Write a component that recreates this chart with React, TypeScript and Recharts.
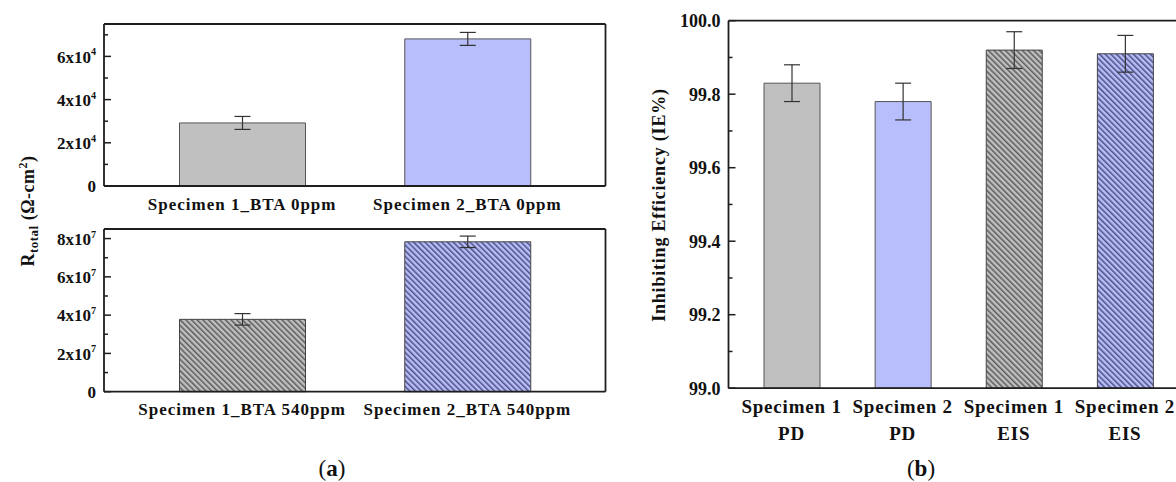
import { BarChart, Bar, XAxis, YAxis, ErrorBar, Cell, ReferenceLine } from "recharts";

const FONT = '"Liberation Serif", "Times New Roman", serif';
const AXIS = "#1e1e1e";

// panel (a) top: no BTA
const topCategories = ["Specimen 1_BTA 0ppm", "Specimen 2_BTA 0ppm"];
const topValues = [29200, 68100];
const topErrors = [3000, 3000];
const topTicks = [0, 10000, 20000, 30000, 40000, 50000, 60000, 70000];
const topTickLabels = ["0", "", "2x10^4", "", "4x10^4", "", "6x10^4", ""];

// panel (a) bottom: 540ppm BTA
const bottomCategories = ["Specimen 1_BTA 540ppm", "Specimen 2_BTA 540ppm"];
const bottomValues = [37800000, 78300000];
const bottomErrors = [3000000, 3000000];
const bottomTicks = [0, 10000000, 20000000, 30000000, 40000000, 50000000, 60000000, 70000000, 80000000];
const bottomTickLabels = ["0", "", "2x10^7", "", "4x10^7", "", "6x10^7", "", "8x10^7"];

// panel (b): inhibiting efficiency
const ieSpecimens = ["Specimen 1", "Specimen 2", "Specimen 1", "Specimen 2"];
const ieMethods = ["PD", "PD", "EIS", "EIS"];
const ieValues = [99.83, 99.78, 99.92, 99.91];
const ieErrors = [0.05, 0.05, 0.05, 0.05];
const ieTicks = [99.0, 99.1, 99.2, 99.3, 99.4, 99.5, 99.6, 99.7, 99.8, 99.9, 100.0];
const ieTickLabels = ["99.0", "", "99.2", "", "99.4", "", "99.6", "", "99.8", "", "100.0"];

const topData = topCategories.map((name, i) => ({ name, value: topValues[i], err: topErrors[i] }));
const bottomData = bottomCategories.map((name, i) => ({ name, value: bottomValues[i], err: bottomErrors[i] }));
const ieData = ieSpecimens.map((s, i) => ({
  name: `${s}|${ieMethods[i]}|${i}`,
  value: ieValues[i],
  err: ieErrors[i],
}));

const GREY = "#c0c0c0";
const BLUE = "#b8bdfb";

function Hatch({ id, bg, line }: { id: string; bg: string; line: string }) {
  return (
    <pattern id={id} width={4} height={4} patternUnits="userSpaceOnUse" patternTransform="rotate(-45)">
      <rect width={4} height={4} fill={bg} />
      <rect width={1.5} height={4} fill={line} />
    </pattern>
  );
}

function YTick(props: any) {
  const { x, y, payload, ticks, labels, size } = props;
  const label: string = labels[ticks.indexOf(payload.value)] ?? "";
  const ax = x + 8;
  const [base, exp] = label.split("^");
  return (
    <g>
      <line x1={ax} x2={ax + (label ? 7 : 4)} y1={y} y2={y} stroke={AXIS} strokeWidth={1.5} />
      {label && (
        <text x={x} y={y} dy={size * 0.36} textAnchor="end" fontFamily={FONT} fontWeight="bold" fontSize={size} fill="#111">
          {base}
          {exp && (
            <tspan dy={-size * 0.42} fontSize={size * 0.6}>
              {exp}
            </tspan>
          )}
        </text>
      )}
    </g>
  );
}

function XTickA(props: any) {
  const { x, y, payload, labelDy } = props;
  return (
    <text x={x} y={y} dy={labelDy} textAnchor="middle" fontFamily={FONT} fontWeight="bold" fontSize={17} letterSpacing={1} fill="#111">
      {payload.value}
    </text>
  );
}

function XTickB(props: any) {
  const { x, y, payload } = props;
  const [spec, method] = String(payload.value).split("|");
  return (
    <g fontFamily={FONT} fontWeight="bold" fontSize={19} letterSpacing={0.8} fill="#111">
      <text x={x} y={y} dy={25} textAnchor="middle">{spec}</text>
      <text x={x} y={y} dy={52} textAnchor="middle">{method}</text>
    </g>
  );
}

const frameLine = { stroke: AXIS, strokeWidth: 1.8 };

function PanelA({
  data, ticks, labels, max, top, height, mTop, mBottom, xHeight, labelDy, hatched, ids,
}: any) {
  return (
    <div style={{ position: "absolute", left: 0, top, width: 620, height }}>
      <BarChart width={620} height={height} data={data} barSize={126}
        margin={{ top: mTop, right: 14.5, bottom: mBottom, left: 0 }}>
        <defs>
          <Hatch id={ids[0]} bg={GREY} line="#5a5a5a" />
          <Hatch id={ids[1]} bg={BLUE} line="#4b5080" />
        </defs>
        <XAxis dataKey="name" interval={0} height={xHeight} padding={{ left: 25.5, right: 25.5 }}
          tickLine={false} tickSize={0} tickMargin={0} axisLine={frameLine}
          tick={(p: any) => <XTickA {...p} labelDy={labelDy} />} />
        <XAxis xAxisId="frame" type="number" domain={[0, 1]} hide />
        <YAxis width={104} domain={[0, max]} ticks={ticks} interval={0} tickSize={0} tickMargin={8}
          tickLine={false} axisLine={frameLine}
          tick={(p: any) => <YTick {...p} ticks={ticks} labels={labels} size={17} />} />
        <ReferenceLine y={max} stroke={AXIS} strokeWidth={1.8} ifOverflow="visible" />
        <ReferenceLine xAxisId="frame" x={1} stroke={AXIS} strokeWidth={1.8} ifOverflow="visible" />
        <Bar dataKey="value" isAnimationActive={false} strokeWidth={1}>
          {data.map((_: any, i: number) => (
            <Cell key={i}
              fill={hatched ? `url(#${ids[i]})` : i === 0 ? GREY : BLUE}
              stroke={hatched ? "#444" : "#555"} />
          ))}
          <ErrorBar dataKey="err" width={8} stroke="#333" strokeWidth={1.2} direction="y" />
        </Bar>
      </BarChart>
    </div>
  );
}

export default function App() {
  return (
    <div style={{ position: "absolute", left: 0, top: 0, width: 1176, height: 482, overflow: "hidden", background: "#fff" }}>
      <PanelA data={topData} ticks={topTicks} labels={topTickLabels} max={75000}
        top={0} height={230} mTop={24} mBottom={14} xHeight={30} labelDy={24}
        hatched={false} ids={["hgA", "hbA"]} />
      <PanelA data={bottomData} ticks={bottomTicks} labels={bottomTickLabels} max={85000000}
        top={220} height={220} mTop={9} mBottom={18} xHeight={30.3} labelDy={23.5}
        hatched={true} ids={["hgB", "hbB"]} />

      <div style={{ position: "absolute", left: 620, top: 0, width: 580, height: 482 }}>
        <BarChart width={580} height={482} data={ieData} barSize={56}
          margin={{ top: 20.7, right: 12, bottom: 50, left: 0 }}>
          <defs>
            <Hatch id="hgC" bg={GREY} line="#5a5a5a" />
            <Hatch id="hbC" bg={BLUE} line="#4b5080" />
          </defs>
          <XAxis dataKey="name" interval={0} height={43.8} padding={{ left: 7.5, right: 7.5 }}
            tickLine={false} tickSize={0} tickMargin={0}
            axisLine={frameLine} tick={(p: any) => <XTickB {...p} />} />
          <YAxis width={108.5} domain={[99, 100]} ticks={ieTicks} interval={0} tickSize={0} tickMargin={8}
            tickLine={false} axisLine={frameLine}
            tick={(p: any) => <YTick {...p} ticks={ieTicks} labels={ieTickLabels} size={18} />} />
          <ReferenceLine y={100} stroke={AXIS} strokeWidth={1.8} ifOverflow="visible" />
          <Bar dataKey="value" isAnimationActive={false} strokeWidth={1}>
            {ieData.map((_, i) => (
              <Cell key={i}
                fill={i === 0 ? GREY : i === 1 ? BLUE : i === 2 ? "url(#hgC)" : "url(#hbC)"}
                stroke={i < 2 ? "#555" : "#444"} />
            ))}
            <ErrorBar dataKey="err" width={8} stroke="#333" strokeWidth={1.2} direction="y" />
          </Bar>
        </BarChart>
      </div>

      <svg width={1176} height={482} style={{ position: "absolute", left: 0, top: 0, pointerEvents: "none" }}>
        <text transform="translate(34,211) rotate(-90)" textAnchor="middle" fontFamily={FONT}
          fontWeight="bold" fontSize={18} letterSpacing={0.5} fill="#111">
          R<tspan dy={4} fontSize={13}>total</tspan>
          <tspan dy={-4}> (Ω-cm</tspan>
          <tspan dy={-7} fontSize={12}>2</tspan>
          <tspan dy={7}>)</tspan>
        </text>
        <text transform="translate(665,205) rotate(-90)" textAnchor="middle" fontFamily={FONT}
          fontWeight="bold" fontSize={18} letterSpacing={0.8} fill="#111">
          Inhibiting Efficiency (IE%)
        </text>
        <text x={332} y={476} textAnchor="middle" fontFamily={FONT} fontSize={23} fill="#111">
          (<tspan fontWeight="bold">a</tspan>)
        </text>
        <text x={921} y={476} textAnchor="middle" fontFamily={FONT} fontSize={23} fill="#111">
          (<tspan fontWeight="bold">b</tspan>)
        </text>
      </svg>
    </div>
  );
}
